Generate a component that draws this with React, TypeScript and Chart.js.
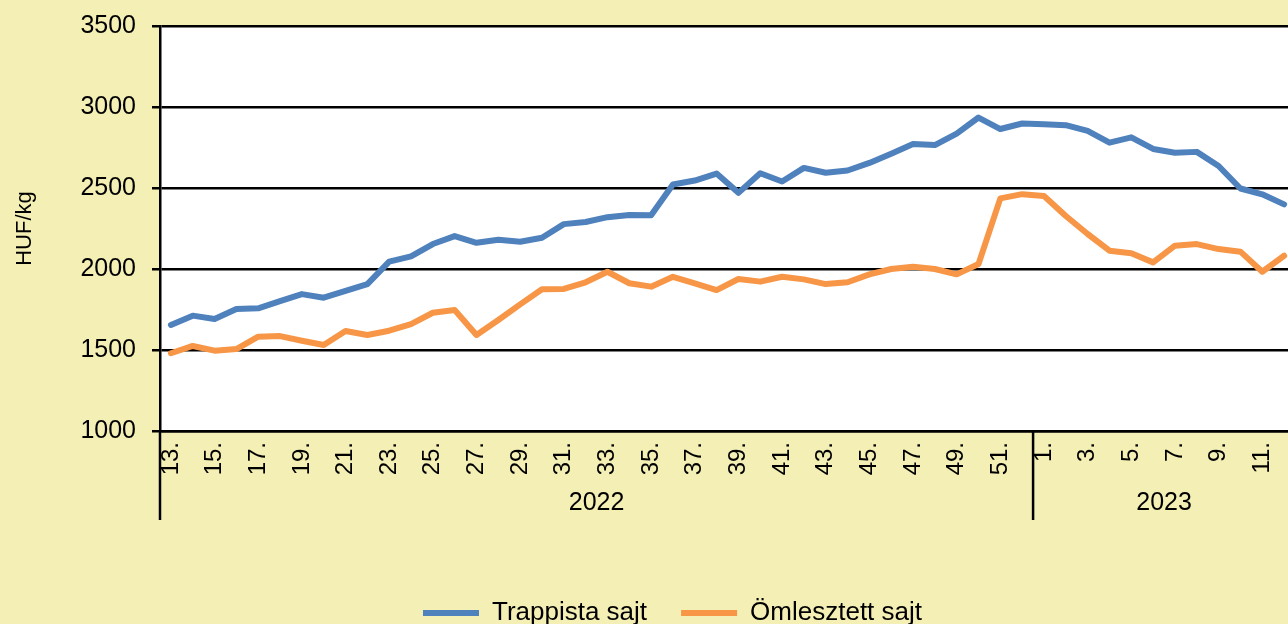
import React, { useEffect, useRef } from 'react';
import { Chart, registerables } from 'chart.js';

Chart.register(...registerables);

// ---- data ----
const weekLabels = [
  '13.', '14.', '15.', '16.', '17.', '18.', '19.', '20.', '21.', '22.',
  '23.', '24.', '25.', '26.', '27.', '28.', '29.', '30.', '31.', '32.',
  '33.', '34.', '35.', '36.', '37.', '38.', '39.', '40.', '41.', '42.',
  '43.', '44.', '45.', '46.', '47.', '48.', '49.', '50.', '51.', '52.',
  '1.', '2.', '3.', '4.', '5.', '6.', '7.', '8.', '9.', '10.', '11.', '12.',
];

const yearLabels = ['2022', '2023'];
const yearWeekCounts = [40, 12];

const trappista = [
  1655, 1712, 1691, 1753, 1757, 1802, 1845, 1823, 1865, 1907,
  2045, 2078, 2154, 2203, 2162, 2181, 2168, 2193, 2277, 2290,
  2320, 2334, 2332, 2522, 2546, 2589, 2470, 2591, 2540, 2624,
  2594, 2608, 2655, 2712, 2771, 2765, 2836, 2935, 2864, 2898,
  2893, 2888, 2852, 2780, 2813, 2741, 2718, 2723, 2636, 2497,
  2461, 2399,
];

const omlesztett = [
  1480, 1525, 1496, 1506, 1582, 1586, 1557, 1531, 1617, 1593,
  1619, 1660, 1730, 1747, 1593, 1685, 1782, 1875, 1877, 1918,
  1983, 1912, 1891, 1952, 1912, 1870, 1938, 1922, 1952, 1936,
  1907, 1918, 1967, 2000, 2014, 2000, 1967, 2031, 2436, 2462,
  2451, 2327, 2216, 2113, 2097, 2041, 2144, 2154, 2123, 2107,
  1983, 2082,
];

const yMin = 1000;
const yMax = 3500;
const yStep = 500;

const seriesNames = ['Trappista sajt', 'Ömlesztett sajt'];

// ---- style ----
const FONT = "Arial, 'Liberation Sans', sans-serif";
const BG = '#F4EFB4';
const BLUE = '#4F81BD';
const ORANGE = '#F79646';

export default function App() {
  const ref = useRef<HTMLCanvasElement>(null);

  useEffect(() => {
    const canvas = ref.current;
    if (!canvas) return;

    const decoPlugin = {
      id: 'deco',
      beforeDraw(chart: any) {
        const { ctx, chartArea: a } = chart;
        ctx.save();
        ctx.fillStyle = BG;
        ctx.fillRect(0, 0, chart.width, chart.height);
        ctx.fillStyle = '#FFFFFF';
        ctx.fillRect(a.left, a.top, a.right - a.left, a.bottom - a.top);
        ctx.restore();
      },
      afterDraw(chart: any) {
        const { ctx, chartArea: a } = chart;
        const xs = chart.scales.x;
        const n = weekLabels.length;
        const bound = (i: number) =>
          i <= 0
            ? xs.left
            : i >= n
            ? xs.right
            : (xs.getPixelForValue(i - 1) + xs.getPixelForValue(i)) / 2;
        ctx.save();
        ctx.strokeStyle = '#000';
        ctx.lineWidth = 2.5;
        ctx.fillStyle = '#000';
        ctx.font = `25px ${FONT}`;
        ctx.textAlign = 'center';
        ctx.textBaseline = 'middle';
        let idx = 0;
        yearLabels.forEach((yl, k) => {
          const l = bound(idx);
          const r = bound(idx + yearWeekCounts[k]);
          ctx.beginPath();
          ctx.moveTo(l, a.bottom);
          ctx.lineTo(l, a.bottom + 89);
          ctx.stroke();
          ctx.fillText(yl, (l + r) / 2, a.bottom + 72);
          idx += yearWeekCounts[k];
        });
        ctx.restore();
      },
    };

    const chart = new Chart(canvas, {
      type: 'line',
      data: {
        labels: weekLabels,
        datasets: [
          {
            label: seriesNames[0],
            data: trappista,
            borderColor: BLUE,
            backgroundColor: BLUE,
            borderWidth: 6,
            pointRadius: 0,
            tension: 0,
            borderCapStyle: 'round',
            borderJoinStyle: 'round',
            yAxisID: 'y',
          },
          {
            label: seriesNames[1],
            data: omlesztett,
            borderColor: ORANGE,
            backgroundColor: ORANGE,
            borderWidth: 6,
            pointRadius: 0,
            tension: 0,
            borderCapStyle: 'round',
            borderJoinStyle: 'round',
            yAxisID: 'y',
          },
        ],
      },
      options: {
        responsive: false,
        animation: false,
        devicePixelRatio: 1,
        layout: { padding: { top: 26, left: 0, right: 0, bottom: -12 } },
        plugins: {
          tooltip: { enabled: false },
          legend: {
            position: 'bottom',
            labels: {
              usePointStyle: true,
              pointStyle: 'line',
              pointStyleWidth: 56,
              color: '#000',
              padding: 34,
              font: { size: 26, family: FONT },
            },
          },
        },
        scales: {
          x: {
            type: 'category',
            offset: true,
            grid: { display: false, drawTicks: false },
            border: { display: true, color: '#000', width: 2.5 },
            ticks: {
              autoSkip: false,
              minRotation: 90,
              maxRotation: 90,
              padding: 11,
              color: '#000',
              font: { size: 24, family: FONT },
              callback: (_v: any, i: number) => (i % 2 === 0 ? weekLabels[i] : ''),
            },
            afterFit: (s: any) => {
              s.paddingLeft = 0;
              s.paddingRight = 0;
              const lh = s.chart.legend ? s.chart.legend.height : 45;
              s.height = 193 + 12 - lh;
            },
          },
          y: {
            type: 'linear',
            position: 'left',
            min: yMin,
            max: yMax,
            ticks: {
              stepSize: yStep,
              padding: 16,
              color: '#000',
              font: { size: 25, family: FONT },
              callback: (v: any) => String(v),
            },
            grid: { color: '#000', lineWidth: 2.5, tickLength: 8, drawTicks: true },
            border: { display: true, color: '#000', width: 2.5 },
            title: {
              display: true,
              text: 'HUF/kg',
              color: '#000',
              font: { size: 22, family: FONT },
              padding: { top: 12, bottom: 0 },
            },
            afterFit: (s: any) => {
              s.width = 160;
              s.paddingTop = 0;
              s.paddingBottom = 0;
            },
          },
          yRight: {
            type: 'linear',
            position: 'right',
            display: true,
            grid: { display: false, drawTicks: false },
            border: { display: false },
            ticks: { display: false },
            afterFit: (s: any) => {
              s.width = 50;
              s.paddingTop = 0;
              s.paddingBottom = 0;
            },
          },
        },
      },
      plugins: [decoPlugin],
    } as any);

    return () => chart.destroy();
  }, []);

  return (
    <div
      style={{
        position: 'fixed',
        left: 0,
        top: 0,
        width: 1288,
        height: 624,
        overflow: 'hidden',
        background: BG,
      }}
    >
      <canvas ref={ref} width={1345} height={624} style={{ display: 'block' }} />
    </div>
  );
}
